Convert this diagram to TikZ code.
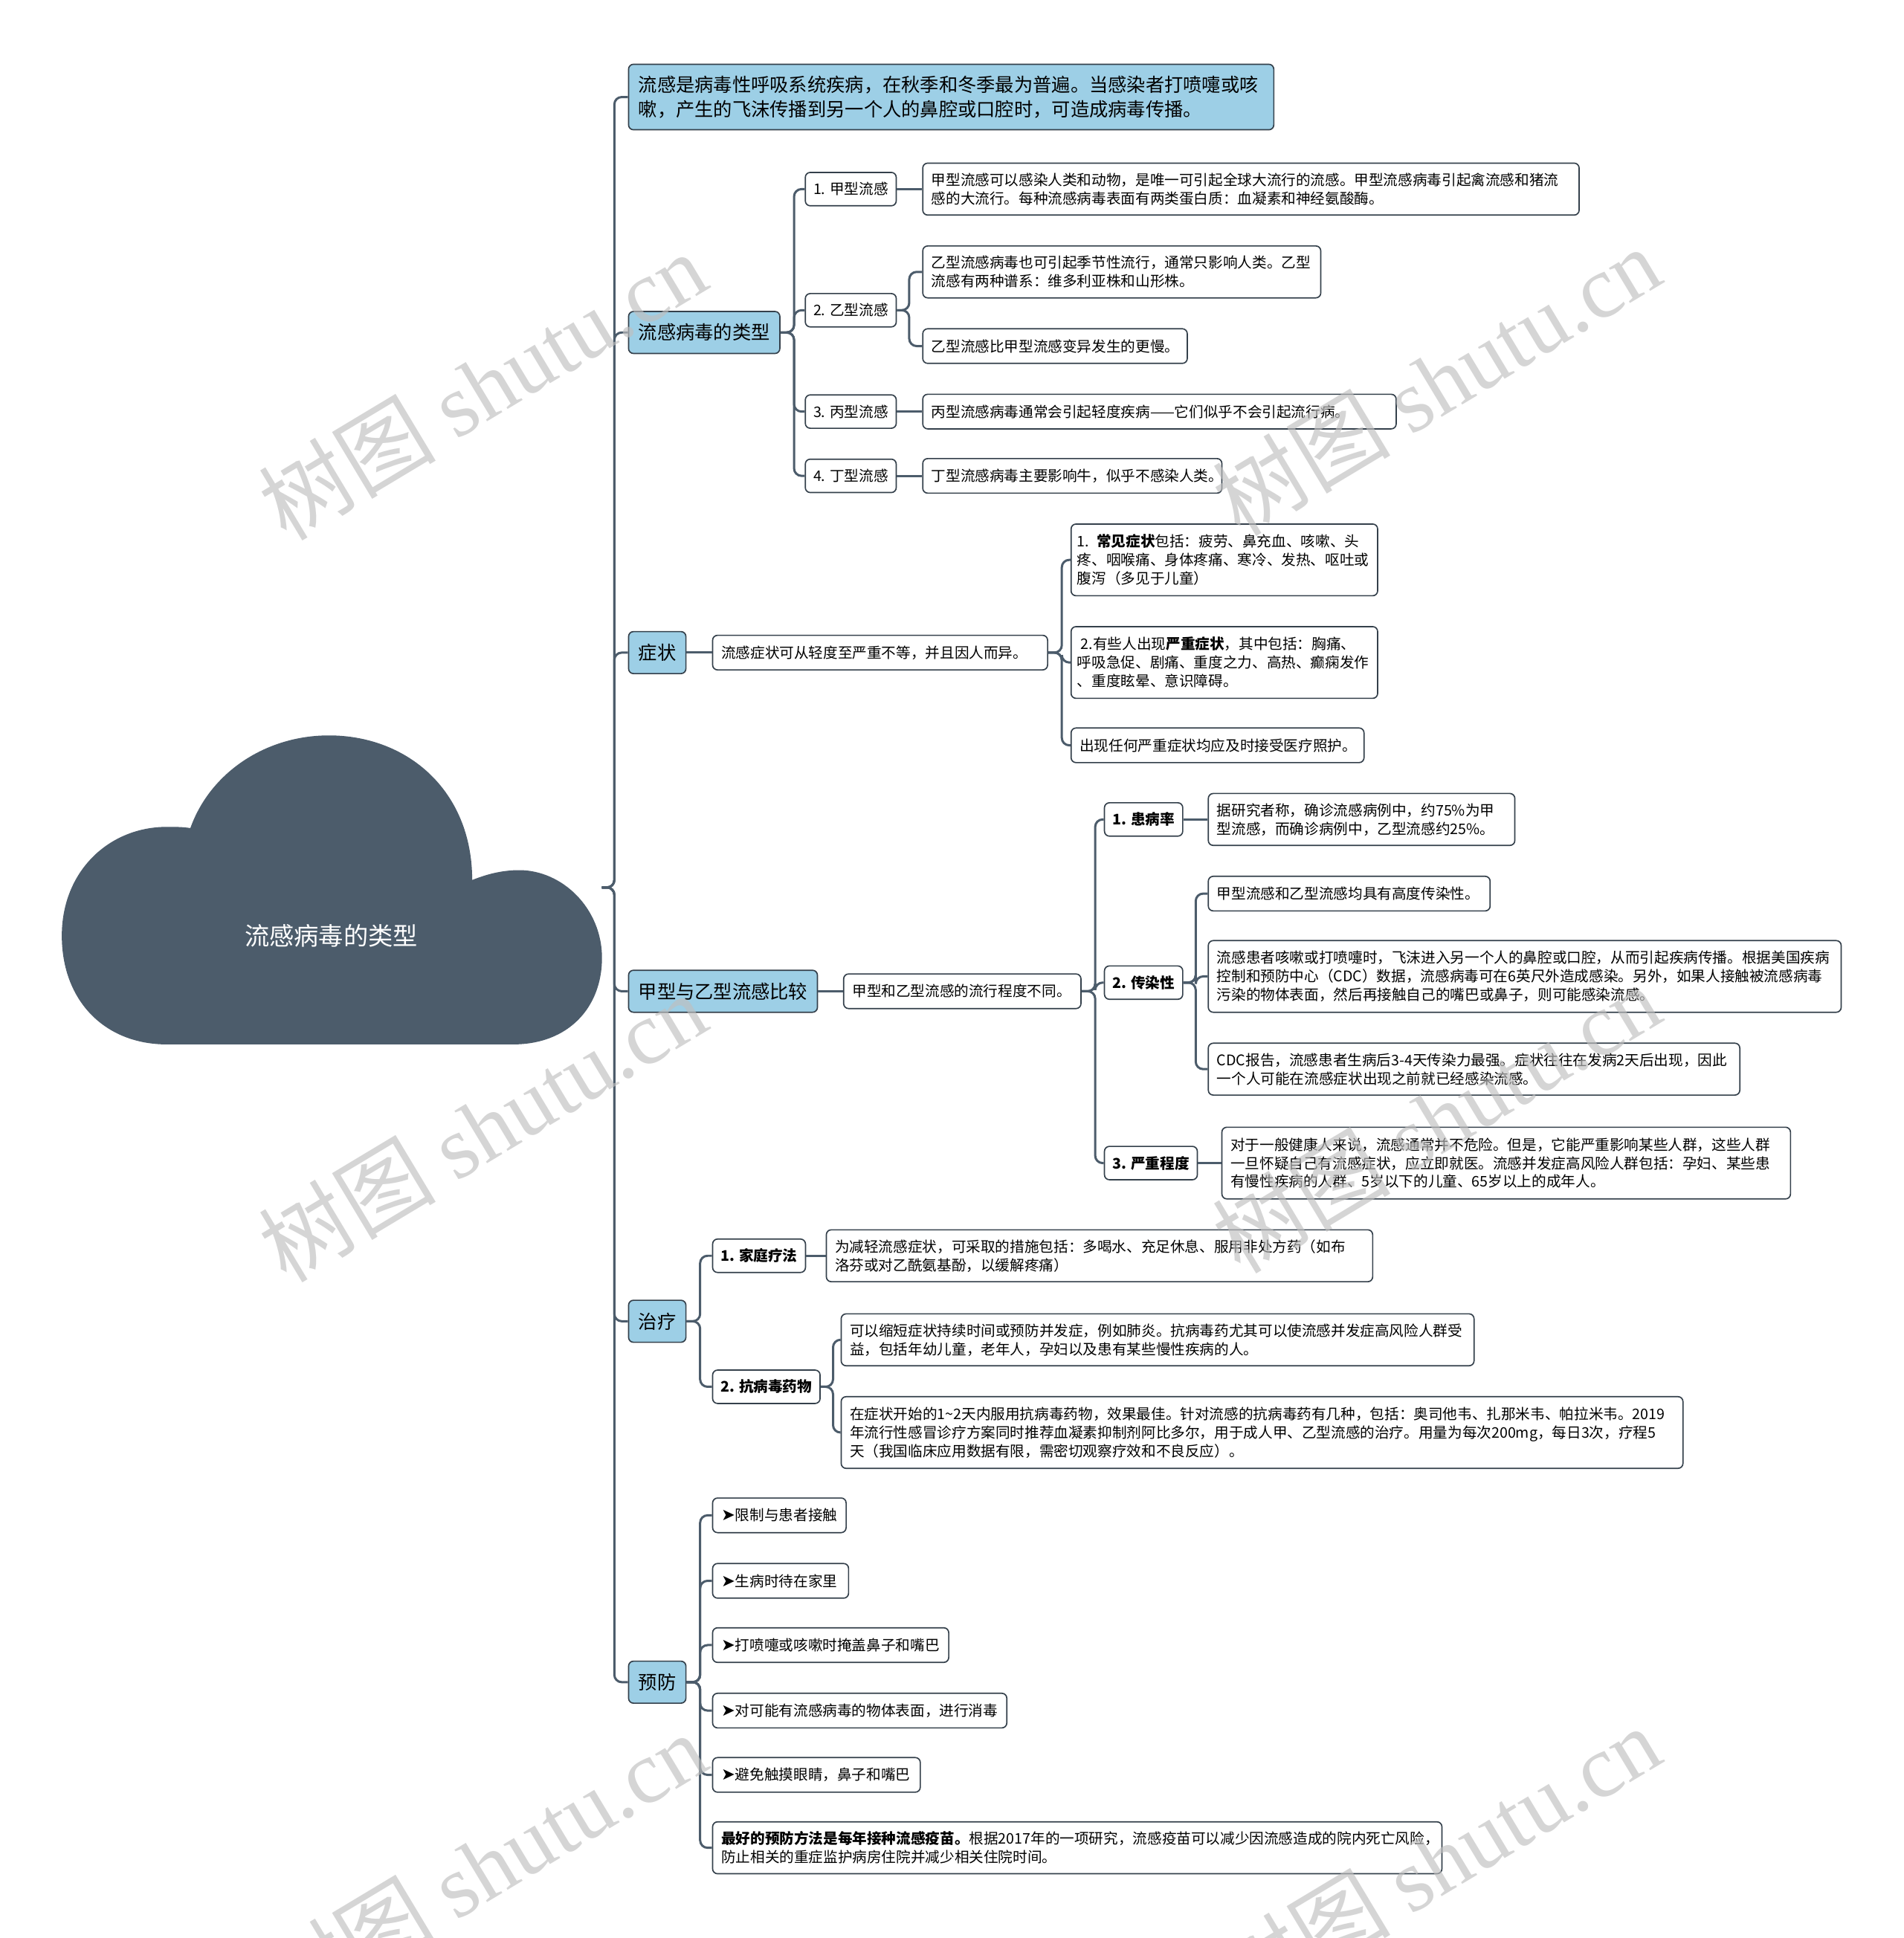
\documentclass[tikz,border=0pt]{standalone}
\usepackage{fontspec}
\setmainfont{Noto Sans CJK SC}
\newfontfamily\symfont{DejaVu Sans}
\newfontfamily\wmlatin{Liberation Serif}
\usepackage{tikz}
\definecolor{slate}{HTML}{4C5C6B}
\definecolor{edge}{HTML}{34404B}
\definecolor{topicblue}{HTML}{9DCFE6}
\newcommand{\bul}{{\symfont\fontsize{13.5}{15}\selectfont ➤}}

\begin{document}
\begin{tikzpicture}[
    x=1pt, y=-1pt,
    topic/.style={
        draw=edge,
        fill=topicblue,
        rounded corners=4pt,
        line width=1pt,
        anchor=west,
        minimum height=34pt,
        inner xsep=8pt,
        inner ysep=3pt,
        font=\fontsize{15.2}{20}\selectfont
    },
    sub/.style={
        draw=edge,
        fill=white,
        rounded corners=4pt,
        line width=1pt,
        anchor=west,
        minimum height=27pt,
        inner xsep=6.5pt,
        inner ysep=3pt,
        font=\fontsize{11.8}{15}\selectfont
    },
    leaf/.style={sub, align=left, inner xsep=7pt, minimum height=28pt},
    two/.style={minimum height=42pt},
    three/.style={minimum height=58pt},
    link/.style={draw=slate, line width=1.8pt, rounded corners=6pt},
    wmark/.style={rotate=31, text=black!25, opacity=0.65, font=\fontsize{72}{72}\selectfont}
]
\useasboundingbox (0,0) rectangle (1540,1568);

\fill[slate] (50,757) .. controls (50,810) and (85,845) .. (135,845) -- (415,845)
    .. controls (460,845) and (487,815) .. (487,775) .. controls (487,735) and (455,704) .. (420,704)
    .. controls (405,704) and (392,708) .. (382,712) .. controls (382,640) and (330,595) .. (266,595)
    .. controls (215,595) and (170,625) .. (154,670) .. controls (148,669) and (142,669) .. (135,669)
    .. controls (88,669) and (50,705) .. (50,757) -- cycle;
\node[text=white, font=\fontsize{20}{24}\selectfont] (root) at (268,757) {流感病毒的类型};
\coordinate (rootout) at (487,718);

\node[topic, align=left, text width=506pt, minimum height=53pt] (intro) at (508,78.5) {流感是病毒性呼吸系统疾病，在秋季和冬季最为普遍。当感染者打喷嚏或咳\\嗽，产生的飞沫传播到另一个人的鼻腔或口腔时，可造成病毒传播。};
\node[topic] (types) at (508,269) {流感病毒的类型};
\node[topic] (symp) at (508,528) {症状};
\node[topic] (comp) at (508,802) {甲型与乙型流感比较};
\node[topic] (treat) at (508,1069) {治疗};
\node[topic] (prev) at (508,1361) {预防};

\foreach \n in {intro,types,symp,comp,treat,prev}
    \draw[link] (rootout) -- ++(10,0) |- (\n.west);

\node[sub] (ta) at (651,153) {1. 甲型流感};
\node[sub] (tb) at (651,251) {2. 乙型流感};
\node[sub] (tc) at (651,333) {3. 丙型流感};
\node[sub] (td) at (651,385) {4. 丁型流感};
\node[leaf, two, text width=517pt] (ta1) at (746,153) {甲型流感可以感染人类和动物，是唯一可引起全球大流行的流感。甲型流感病毒引起禽流感和猪流\\感的大流行。每种流感病毒表面有两类蛋白质：血凝素和神经氨酸酶。};
\node[leaf, two, text width=308pt] (tb1) at (746,220) {乙型流感病毒也可引起季节性流行，通常只影响人类。乙型\\流感有两种谱系：维多利亚株和山形株。};
\node[leaf, text width=200pt] (tb2) at (746,280) {乙型流感比甲型流感变异发生的更慢。};
\node[leaf, text width=369pt] (tc1) at (746,333) {丙型流感病毒通常会引起轻度疾病——它们似乎不会引起流行病。};
\node[leaf, text width=228pt] (td1) at (746,385) {丁型流感病毒主要影响牛，似乎不感染人类。};

\foreach \n in {ta,tb,tc,td}
    \draw[link] (types.east) -- ++(11,0) |- (\n.west);
\draw[link] (ta) -- (ta1);
\foreach \n in {tb1,tb2}
    \draw[link] (tb.east) -- ++(10,0) |- (\n.west);
\draw[link] (tc) -- (tc1);
\draw[link] (td) -- (td1);

\node[leaf, text width=257pt] (sy0) at (576,528) {流感症状可从轻度至严重不等，并且因人而异。};
\node[leaf, three, inner xsep=5pt, text width=238pt] (sy1) at (866,453) {1. \textbf{常见症状}包括：疲劳、鼻充血、咳嗽、头\\疼、咽喉痛、身体疼痛、寒冷、发热、呕吐或\\腹泻（多见于儿童）};
\node[leaf, three, inner xsep=5pt, text width=238pt] (sy2) at (866,536) {\hspace{3pt}2.有些人出现\textbf{严重症状}，其中包括：胸痛、\\呼吸急促、剧痛、重度之力、高热、癫痫发作\\、重度眩晕、意识障碍。};
\node[leaf, text width=223pt] (sy3) at (866,603) {出现任何严重症状均应及时接受医疗照护。};

\draw[link] (symp) -- (sy0);
\foreach \n in {sy1,sy2,sy3}
    \draw[link] (sy0.east) -- ++(11,0) |- (\n.west);

\node[leaf, text width=178pt] (c0) at (682,802) {甲型和乙型流感的流行程度不同。};
\node[sub] (c1) at (893,663) {\textbf{1. 患病率}};
\node[sub] (c2) at (893,795) {\textbf{2. 传染性}};
\node[sub] (c3) at (893,941) {\textbf{3. 严重程度}};
\node[leaf, two, text width=234pt] (c1a) at (977,663) {据研究者称，确诊流感病例中，约75\%为甲\\型流感，而确诊病例中，乙型流感约25\%。};
\node[leaf, text width=214pt] (c2a) at (977,723) {甲型流感和乙型流感均具有高度传染性。};
\node[leaf, three, text width=498pt] (c2b) at (977,790) {流感患者咳嗽或打喷嚏时，飞沫进入另一个人的鼻腔或口腔，从而引起疾病传播。根据美国疾病\\控制和预防中心（CDC）数据，流感病毒可在6英尺外造成感染。另外，如果人接触被流感病毒\\污染的物体表面，然后再接触自己的嘴巴或鼻子，则可能感染流感。};
\node[leaf, two, text width=416pt] (c2c) at (977,865) {CDC报告，流感患者生病后3-4天传染力最强。症状往往在发病2天后出现，因此\\一个人可能在流感症状出现之前就已经感染流感。};
\node[leaf, three, text width=446pt] (c3a) at (988,941) {对于一般健康人来说，流感通常并不危险。但是，它能严重影响某些人群，这些人群\\一旦怀疑自己有流感症状，应立即就医。流感并发症高风险人群包括：孕妇、某些患\\有慢性疾病的人群、5岁以下的儿童、65岁以上的成年人。};

\draw[link] (comp) -- (c0);
\foreach \n in {c1,c2,c3}
    \draw[link] (c0.east) -- ++(11,0) |- (\n.west);
\draw[link] (c1) -- (c1a);
\foreach \n in {c2a,c2b,c2c}
    \draw[link] (c2.east) -- ++(10,0) |- (\n.west);
\draw[link] (c3) -- (c3a);

\node[sub] (t1) at (576,1016) {\textbf{1. 家庭疗法}};
\node[sub] (t2) at (576,1122) {\textbf{2. 抗病毒药物}};
\node[leaf, two, text width=428pt] (t1a) at (668,1016) {为减轻流感症状，可采取的措施包括：多喝水、充足休息、服用非处方药（如布\\洛芬或对乙酰氨基酚，以缓解疼痛）};
\node[leaf, two, text width=498pt] (t2a) at (680,1084) {可以缩短症状持续时间或预防并发症，例如肺炎。抗病毒药尤其可以使流感并发症高风险人群受\\益，包括年幼儿童，老年人，孕妇以及患有某些慢性疾病的人。};
\node[leaf, three, text width=667pt] (t2b) at (680,1159) {在症状开始的1\textasciitilde 2天内服用抗病毒药物，效果最佳。针对流感的抗病毒药有几种，包括：奥司他韦、扎那米韦、帕拉米韦。2019\\年流行性感冒诊疗方案同时推荐血凝素抑制剂阿比多尔，用于成人甲、乙型流感的治疗。用量为每次200mg，每日3次，疗程5\\天（我国临床应用数据有限，需密切观察疗效和不良反应）。};

\foreach \n in {t1,t2}
    \draw[link] (treat.east) -- ++(11,0) |- (\n.west);
\draw[link] (t1) -- (t1a);
\foreach \n in {t2a,t2b}
    \draw[link] (t2.east) -- ++(10,0) |- (\n.west);

\node[leaf, text width=94pt] (p1) at (576,1226) {\bul 限制与患者接触};
\node[leaf, text width=96pt] (p2) at (576,1279) {\bul 生病时待在家里};
\node[leaf, text width=177pt] (p3) at (576,1331) {\bul 打喷嚏或咳嗽时掩盖鼻子和嘴巴};
\node[leaf, text width=224pt] (p4) at (576,1384) {\bul 对可能有流感病毒的物体表面，进行消毒};
\node[leaf, text width=154pt] (p5) at (576,1436) {\bul 避免触摸眼睛，鼻子和嘴巴};
\node[leaf, two, text width=576pt] (p6) at (576,1495) {\textbf{最好的预防方法是每年接种流感疫苗。}根据2017年的一项研究，流感疫苗可以减少因流感造成的院内死亡风险，\\防止相关的重症监护病房住院并减少相关住院时间。};

\foreach \n in {p1,p2,p3,p4,p5,p6}
    \draw[link] (prev.east) -- ++(11,0) |- (\n.west);

\foreach \wx/\wy [count=\i] in {390/312, 1162/308, 390/912, 1162/905, 390/1510, 1162/1505}
    \node[wmark] (wm\i) at (\wx,\wy) {树图 {\wmlatin shutu.cn}};

\end{tikzpicture}
\end{document}
